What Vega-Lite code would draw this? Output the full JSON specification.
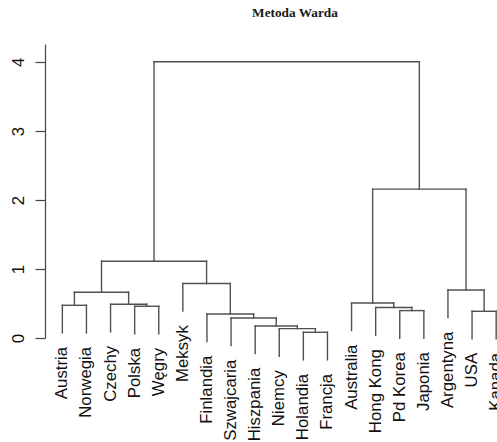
{
  "$schema": "https://vega.github.io/schema/vega-lite/v6.json",
  "width": 452,
  "height": 294,
  "autosize": "none",
  "padding": {"left": 45, "top": 44, "right": 0, "bottom": 104},
  "background": "white",
  "title": {
    "text": "Metoda Warda",
    "font": "Liberation Serif",
    "fontSize": 13.3,
    "fontWeight": "bold",
    "color": "#1a1a1a",
    "anchor": "middle",
    "frame": "group",
    "dx": 24,
    "offset": 13.5,
    "baseline": "alphabetic"
  },
  "config": {
    "view": {"stroke": null},
    "axisY": {
      "grid": false,
      "domainColor": "#444444",
      "domainWidth": 1.2,
      "tickColor": "#444444",
      "tickWidth": 1.2,
      "tickSize": 10,
      "labelFont": "Liberation Sans",
      "labelFontSize": 16.8,
      "labelColor": "#111111",
      "labelAngle": 270,
      "labelAlign": "center",
      "labelBaseline": "alphabetic",
      "labelPadding": 12
    }
  },
  "datasets": {
    "merges": [
      {"node": "a", "xl": 1, "xr": 2, "hl": 0.074, "hr": 0.074, "h": 0.474},
      {"node": "b", "xl": 4, "xr": 5, "hl": 0.06, "hr": 0.06, "h": 0.46},
      {"node": "c", "xl": 3, "xr": 4.5, "hl": 0.089, "hr": 0.46, "h": 0.489},
      {"node": "d", "xl": 1.5, "xr": 3.75, "hl": 0.474, "hr": 0.489, "h": 0.663},
      {"node": "e", "xl": 11, "xr": 12, "hl": -0.317, "hr": -0.317, "h": 0.083},
      {"node": "f", "xl": 10, "xr": 11.5, "hl": -0.264, "hr": 0.083, "h": 0.136},
      {"node": "g", "xl": 9, "xr": 10.75, "hl": -0.226, "hr": 0.136, "h": 0.174},
      {"node": "h", "xl": 8, "xr": 9.875, "hl": -0.11, "hr": 0.174, "h": 0.29},
      {"node": "i", "xl": 7, "xr": 8.9375, "hl": -0.052, "hr": 0.29, "h": 0.348},
      {"node": "j", "xl": 6, "xr": 7.96875, "hl": 0.389, "hr": 0.348, "h": 0.789},
      {"node": "k", "xl": 2.625, "xr": 6.984375, "hl": 0.663, "hr": 0.789, "h": 1.113},
      {"node": "l", "xl": 15, "xr": 16, "hl": -0.003, "hr": -0.003, "h": 0.397},
      {"node": "m", "xl": 14, "xr": 15.5, "hl": 0.041, "hr": 0.397, "h": 0.441},
      {"node": "n", "xl": 13, "xr": 14.75, "hl": 0.108, "hr": 0.441, "h": 0.508},
      {"node": "o", "xl": 18, "xr": 19, "hl": -0.013, "hr": -0.013, "h": 0.387},
      {"node": "p", "xl": 17, "xr": 18.5, "hl": 0.296, "hr": 0.387, "h": 0.696},
      {"node": "q", "xl": 13.875, "xr": 17.75, "hl": 0.508, "hr": 0.696, "h": 2.157},
      {"node": "r", "xl": 4.8046875, "xr": 15.8125, "hl": 1.113, "hr": 2.157, "h": 4.003}
    ],
    "leaves": [
      {"name": "Austria", "x": 1, "end": 0.074},
      {"name": "Norwegia", "x": 2, "end": 0.074},
      {"name": "Czechy", "x": 3, "end": 0.089},
      {"name": "Polska", "x": 4, "end": 0.06},
      {"name": "Węgry", "x": 5, "end": 0.06},
      {"name": "Meksyk", "x": 6, "end": 0.389},
      {"name": "Finlandia", "x": 7, "end": -0.052},
      {"name": "Szwajcaria", "x": 8, "end": -0.11},
      {"name": "Hiszpania", "x": 9, "end": -0.226},
      {"name": "Niemcy", "x": 10, "end": -0.264},
      {"name": "Holandia", "x": 11, "end": -0.317},
      {"name": "Francja", "x": 12, "end": -0.317},
      {"name": "Australia", "x": 13, "end": 0.108},
      {"name": "Hong Kong", "x": 14, "end": 0.041},
      {"name": "Pd Korea", "x": 15, "end": -0.003},
      {"name": "Japonia", "x": 16, "end": -0.003},
      {"name": "Argentyna", "x": 17, "end": 0.296},
      {"name": "USA", "x": 18, "end": -0.013},
      {"name": "Kanada", "x": 19, "end": -0.013}
    ]
  },
  "layer": [
    {
      "data": {"name": "merges"},
      "mark": {"type": "rule", "color": "#505050", "strokeWidth": 1.4, "strokeCap": "square"},
      "encoding": {
        "x": {"field": "xl", "type": "quantitative", "scale": {"domain": [0.28, 19.035], "nice": false, "zero": false}, "axis": null},
        "y": {"field": "hl", "type": "quantitative", "scale": {"domain": [0, 4.26], "nice": false, "zero": false}, "axis": {"title": null, "values": [0, 1, 2, 3, 4], "format": "d"}},
        "y2": {"field": "h"}
      }
    },
    {
      "data": {"name": "merges"},
      "mark": {"type": "rule", "color": "#505050", "strokeWidth": 1.4, "strokeCap": "square"},
      "encoding": {
        "x": {"field": "xr", "type": "quantitative", "axis": null},
        "y": {"field": "hr", "type": "quantitative", "title": null},
        "y2": {"field": "h"}
      }
    },
    {
      "data": {"name": "merges"},
      "mark": {"type": "rule", "color": "#505050", "strokeWidth": 1.4, "strokeCap": "square"},
      "encoding": {
        "x": {"field": "xl", "type": "quantitative", "axis": null},
        "x2": {"field": "xr"},
        "y": {"field": "h", "type": "quantitative", "title": null}
      }
    },
    {
      "data": {"name": "leaves"},
      "mark": {"type": "text", "angle": 270, "align": "right", "baseline": "middle", "dx": -14, "font": "Liberation Sans", "fontSize": 16.8, "color": "#111111"},
      "encoding": {
        "x": {"field": "x", "type": "quantitative", "axis": null},
        "y": {"field": "end", "type": "quantitative", "title": null},
        "text": {"field": "name"}
      }
    }
  ]
}
